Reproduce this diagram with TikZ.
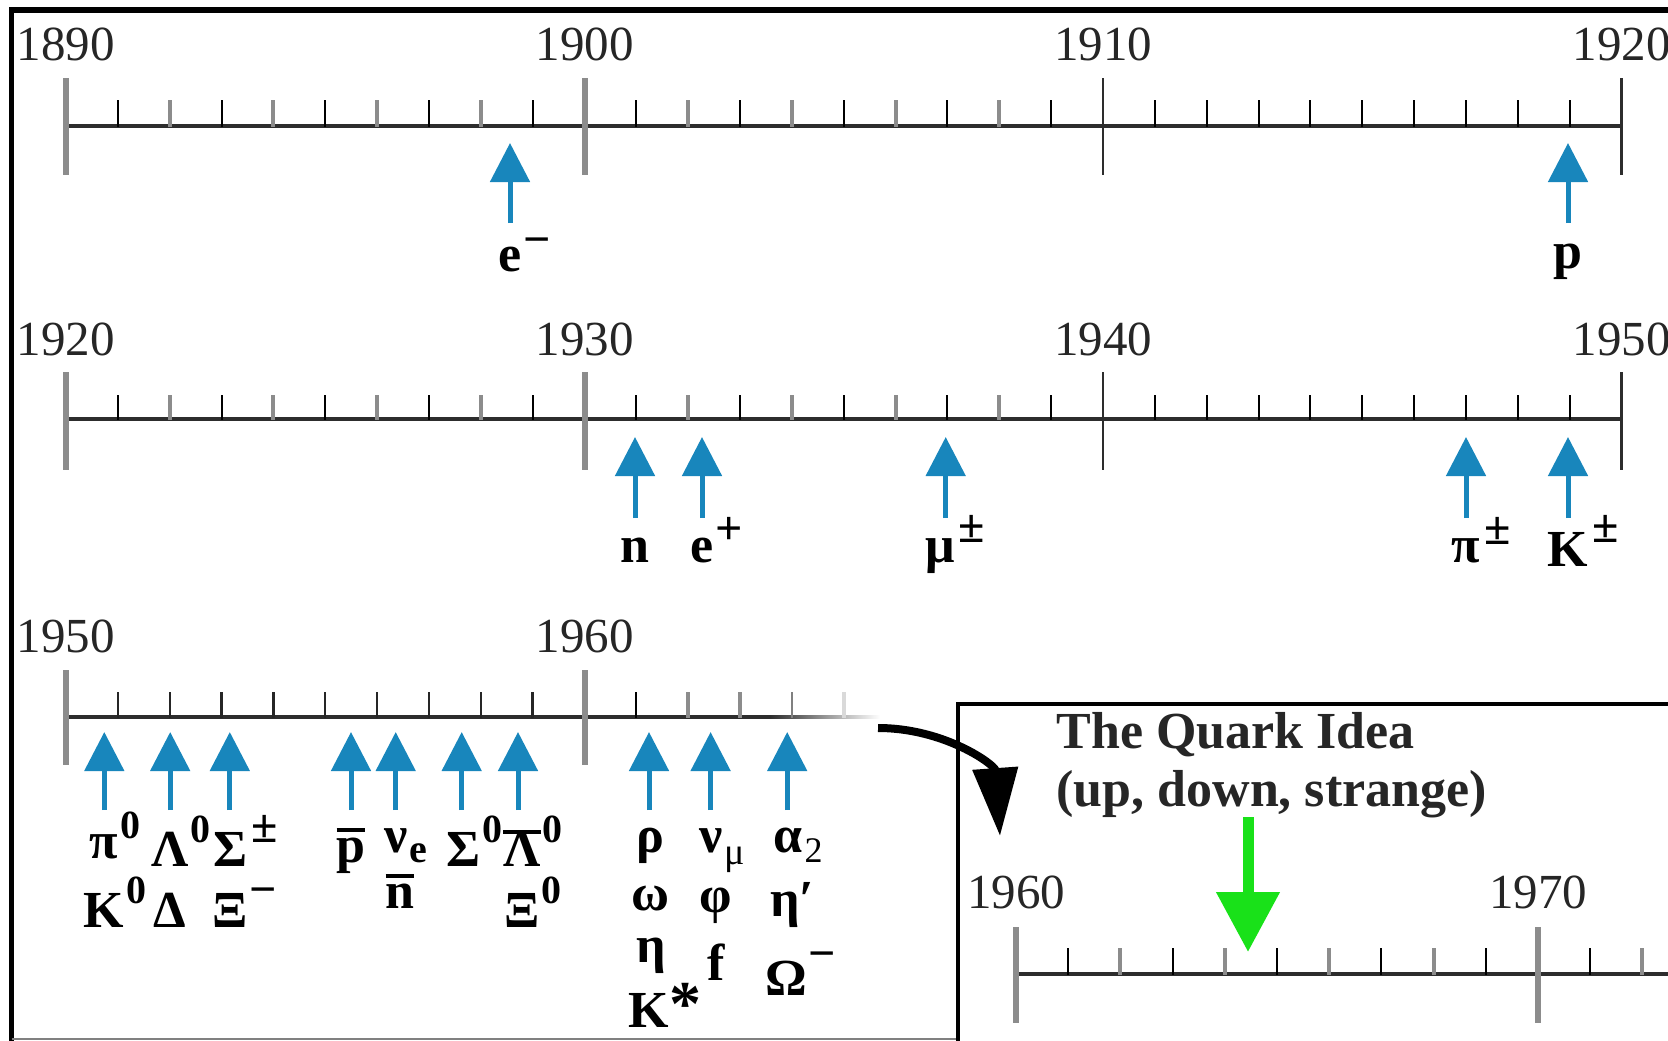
\documentclass[tikz,border=0pt]{standalone}
\usepackage{fontspec}
\setmainfont{Liberation Serif}
\usetikzlibrary{arrows.meta}
\definecolor{pblue}{RGB}{24,134,188}
\definecolor{qgreen}{RGB}{25,225,25}
\definecolor{tgray}{RGB}{140,140,140}
\definecolor{axcol}{RGB}{45,45,45}
\newcommand\lblsz{\fontsize{26}{28}\selectfont\bfseries}
\newcommand\supz[1][12pt]{\rlap{\kern1pt\raisebox{#1}{\fontsize{20}{20}\selectfont\bfseries 0}}}
\newcommand\suppm[1][9pt]{\rlap{\kern2pt\raisebox{#1}{\fontsize{24}{24}\selectfont\bfseries ±}}}
\newcommand\supmi[1][8pt]{\rlap{\kern1pt\raisebox{#1}{\fontsize{24}{24}\selectfont\bfseries −}}}
\newcommand\suppl[1][8pt]{\rlap{\kern1pt\raisebox{#1}{\fontsize{24}{24}\selectfont\bfseries +}}}
\newcommand\ovl[2][3pt]{\vbox{\hrule height 2pt\kern #1\hbox{#2}}}
\newcommand\barrow[4]{\coordinate (#1t) at (#2,#4); \coordinate (#1h) at (#2,#3); \draw[barr] (#1t) -- (#1h);}
\begin{document}
\begin{tikzpicture}[x=0.5pt,y=-0.5pt,
  axisl/.style={draw=axcol,line width=1.6pt},
  majg/.style={draw=tgray,line width=3pt},
  majd/.style={draw=axcol,line width=1.3pt},
  minb/.style={draw=black,line width=1pt},
  ming/.style={draw=tgray,line width=2pt},
  yrlbl/.style={font=\fontsize{24.5}{26}\selectfont,text=black!85,inner sep=0pt,anchor=base},
  lbl/.style={font=\lblsz,inner sep=0pt,anchor=base},
  barr/.style={draw=pblue,line width=2.5pt,-{Triangle[length=19.5pt,width=19.5pt]}},
]
\useasboundingbox (0,0) rectangle (1668,1040);
\fill[white] (0,0) rectangle (1668,1040);
% outer frame
\draw[line width=2.75pt] (11.5,1045) -- (11.5,10) -- (1680,10);
\draw[gray,line width=1pt] (11.5,1039) -- (958,1039);

% ---------- Row 1: 1890-1920 ----------
\draw[axisl] (66,126) -- (1621,126);
\foreach \k/\s in {0/majg,1/majg,2/majd,3/majd}
  \draw[\s] ({66+\k*518.5},78) -- ({66+\k*518.5},175);
\foreach \i in {1,3,...,19} \draw[minb] ({66+\i*51.85},100) -- ({66+\i*51.85},127);
\foreach \i in {2,4,6,8,12,14,16,18} \draw[ming] ({66+\i*51.85},100) -- ({66+\i*51.85},127);
\foreach \i in {21,...,29} \draw[minb] ({66+\i*51.85},100) -- ({66+\i*51.85},127);
\node[yrlbl] (y1890) at (66,60) {1890};
\node[yrlbl] (y1900) at (584.5,60) {1900};
\node[yrlbl] (y1910) at (1103,60) {1910};
\node[yrlbl] (y1920a) at (1621.5,60) {1920};
\barrow{ae}{510}{143}{223}
\barrow{ap}{1568}{143}{223}
\node[lbl] (le) at (510,271) {e\supmi[8pt]};
\node[lbl] (lp) at (1568,268) {p};

% ---------- Row 2: 1920-1950 ----------
\draw[axisl] (66,419) -- (1621,419);
\foreach \k/\s in {0/majg,1/majg,2/majd,3/majd}
  \draw[\s] ({66+\k*518.5},372) -- ({66+\k*518.5},470);
\foreach \i in {1,3,...,19} \draw[minb] ({66+\i*51.85},395) -- ({66+\i*51.85},420);
\foreach \i in {2,4,6,8,12,14,16,18} \draw[ming] ({66+\i*51.85},395) -- ({66+\i*51.85},420);
\foreach \i in {21,...,29} \draw[minb] ({66+\i*51.85},395) -- ({66+\i*51.85},420);
\node[yrlbl] (y1920) at (66,355) {1920};
\node[yrlbl] (y1930) at (584.5,355) {1930};
\node[yrlbl] (y1940) at (1103,355) {1940};
\node[yrlbl] (y1950a) at (1621.5,355) {1950};
\barrow{an}{635}{437}{518}
\barrow{aep}{702}{437}{518}
\barrow{amu}{945.7}{437}{518}
\barrow{api}{1466}{437}{518}
\barrow{ak}{1568}{437}{518}
\node[lbl] (ln) at (635,562) {n};
\node[lbl] (lep) at (702,562) {e\suppl[9pt]};
\node[lbl] (lmu) at (940,562) {μ\suppm[10pt]};
\node[lbl] (lpi) at (1466,562) {π\suppm[9pt]};
\node[lbl] (lk) at (1568,566) {K\suppm[12pt]};

% ---------- Row 3: 1950-1965 ----------
\draw[axisl] (66,717) -- (770,717);
\shade[left color=axcol,right color=white] (770,715.4) rectangle (880,718.6);
\draw[majg] (66,670) -- (66,765);
\draw[majg] (584.5,670) -- (584.5,765);
\foreach \i in {1,...,9} \draw[draw=black!85,line width=1.2pt] ({66+\i*51.85},692) -- ({66+\i*51.85},718);
\draw[minb] ({66+11*51.85},692) -- ({66+11*51.85},718);
\draw[ming] ({66+12*51.85},692) -- ({66+12*51.85},718);
\draw[ming] ({66+13*51.85},692) -- ({66+13*51.85},718);
\draw[draw=gray,line width=1pt] ({66+14*51.85},692) -- ({66+14*51.85},718);
\draw[draw=black!15,line width=2pt] ({66+15*51.85},692) -- ({66+15*51.85},718);
\node[yrlbl] (y1950) at (66,652) {1950};
\node[yrlbl] (y1960) at (584.5,652) {1960};
\barrow{b1}{104.3}{732}{810}
\barrow{b2}{170.2}{732}{810}
\barrow{b3}{229.8}{732}{810}
\barrow{b4}{351}{732}{810}
\barrow{b5}{395.7}{732}{810}
\barrow{b6}{461.7}{732}{810}
\barrow{b7}{518}{732}{810}
\barrow{b8}{649}{732}{810}
\barrow{b9}{710.6}{732}{810}
\barrow{b10}{787.2}{732}{810}
% labels row 3
\node[lbl] (lpi0) at (104,858) {π\supz[10pt]};
\node[lbl] (lk0) at (104,927) {K\supz[12pt]};
\node[lbl] (llam) at (170,866) {Λ\supz[12pt]};
\node[lbl] (ldel) at (170,927) {Δ};
\node[lbl] (lsig) at (230,866) {Σ\suppm[12pt]};
\node[lbl] (lxim) at (230,927) {Ξ\supmi[11pt]};
\node[lbl] (lpbar) at (351,862) {\ovl[3pt]{p}};
\node[lbl] (lnue) at (396,852) {ν\rlap{\kern1pt\raisebox{-5pt}{\fontsize{20}{20}\selectfont\bfseries e}}};
\node[lbl] (lnbar) at (400,908) {\ovl[3pt]{n}};
\node[lbl] (lsig0) at (463,866) {Σ\supz[12pt]};
\node[lbl] (llamb) at (522,866) {\ovl[-1pt]{Λ}\supz[12pt]};
\node[lbl] (lxi0) at (522,927) {Ξ\supz[12pt]};
\node[lbl] (lrho) at (650,852) {ρ};
\node[lbl] (lome) at (650,910) {ω};
\node[lbl] (leta) at (651,962) {η};
\node[lbl] (lkst) at (649,1027) {K\rlap{\raisebox{1pt}{\fontsize{32}{32}\selectfont\bfseries *}}};
\node[lbl] (lnumu) at (711,852) {ν\rlap{\kern1pt\raisebox{-6pt}{\fontsize{19}{19}\selectfont\mdseries μ}}};
\node[lbl] (lphi) at (716,912) {φ};
\node[lbl] (lf) at (716,980) {f};
\node[lbl] (la2) at (788,852) {α\rlap{\kern1pt\raisebox{-5pt}{\fontsize{18}{18}\selectfont\mdseries 2}}};
\node[lbl] (letap) at (785,916) {η\rlap{′}};
\node[lbl] (lOm) at (786,995) {Ω\supmi[13pt]};

% ---------- Inset: The Quark Idea ----------
\filldraw[fill=white,draw=black,line width=2pt] (958,704) rectangle (1700,1060);
\node[font=\fontsize{26}{28}\selectfont\bfseries,text=black!85,inner sep=0pt,anchor=base west] (qt1) at (1056,748) {The Quark Idea};
\node[font=\fontsize{26}{28}\selectfont\bfseries,text=black!85,inner sep=0pt,anchor=base west] (qt2) at (1056,806) {(up, down, strange)};
\draw[axisl] (1016,974) -- (1700,974);
\draw[majg] (1016,927) -- (1016,1023);
\draw[majg] (1538,927) -- (1538,1023);
\foreach \i in {1,3,5,7,9,11} \draw[minb] ({1016+\i*52.2},948) -- ({1016+\i*52.2},975);
\foreach \i in {2,4,6,8,12} \draw[ming] ({1016+\i*52.2},948) -- ({1016+\i*52.2},975);
\node[yrlbl] (i1960) at (1016,908) {1960};
\node[yrlbl] (i1970) at (1538,908) {1970};
\coordinate (gq) at (1248,817);
\coordinate (gt) at (1248,952);
\draw[draw=qgreen,line width=5.5pt,-{Triangle[length=30pt,width=30.5pt]}] (gq) -- (gt);

% curved connector from fading row to inset
\coordinate (cs) at (878,728);
\coordinate (ce) at (1000,836);
\draw[line width=4pt,-{Triangle[length=34pt,width=22pt]}] (cs) .. controls (945,728) and (995,765) .. (ce);
\end{tikzpicture}
\end{document}
